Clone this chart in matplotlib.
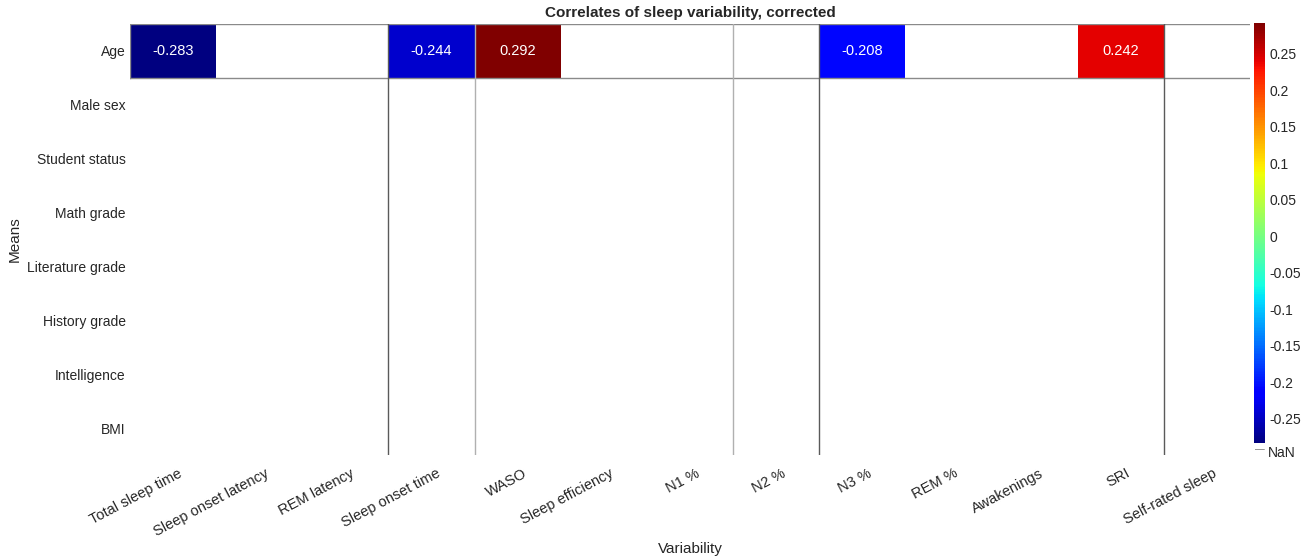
import numpy as np
import matplotlib
matplotlib.use("Agg")
import matplotlib.pyplot as plt
from matplotlib.transforms import ScaledTranslation

plt.rcParams["font.family"] = ["Liberation Sans", "DejaVu Sans"]

columns = ["Total sleep time", "Sleep onset latency", "REM latency", "Sleep onset time",
           "WASO", "Sleep efficiency", "N1 %", "N2 %", "N3 %", "REM %",
           "Awakenings", "SRI", "Self-rated sleep"]
rows = ["Age", "Male sex", "Student status", "Math grade", "Literature grade",
        "History grade", "Intelligence", "BMI"]

# only significant correlations survive correction (Age row)
age_values = [-0.283, np.nan, np.nan, -0.244, 0.292, np.nan, np.nan, np.nan,
              -0.208, np.nan, np.nan, 0.242, np.nan]

# grid-line artefacts in the exported figure: column edges and their shade
vline_cols = [3, 4, 7, 8, 12]
vline_colors = ["#5a5a5a", "#b0b0b0", "#b0b0b0", "#5a5a5a", "#5a5a5a"]

data = np.full((len(rows), len(columns)), np.nan)
data[0, :] = age_values

vmin, vmax = np.nanmin(data), np.nanmax(data)

fig = plt.figure(figsize=(13.11, 5.59), dpi=100)
ax = fig.add_axes([130 / 1311, 1 - 455 / 559, 1120 / 1311, 431 / 559])

cmap = plt.get_cmap("jet").copy()
cmap.set_bad("white")
mesh = ax.pcolormesh(np.ma.masked_invalid(data), cmap=cmap, vmin=vmin, vmax=vmax)
ax.set_xlim(0, len(columns))
ax.set_ylim(len(rows), 0)

for i in range(len(rows)):
    for j in range(len(columns)):
        v = data[i, j]
        if not np.isnan(v):
            ax.text(j + 0.5, i + 0.5, f"{v:.3f}", ha="center", va="center",
                    color="white", fontsize=10.5)

# edge lines
ax.plot([0, len(columns)], [0, 0], color="#8a8a8a", lw=1)
ax.plot([0, len(columns)], [1, 1], color="#8a8a8a", lw=1)
ax.plot([0, 0], [0, 1], color="#8a8a8a", lw=1)
for c, col in zip(vline_cols, vline_colors):
    ax.plot([c, c], [0, len(rows)], color=col, lw=1)

for s in ax.spines.values():
    s.set_visible(False)

ax.set_xticks(np.arange(len(columns)) + 0.5)
ax.set_yticks(np.arange(len(rows)) + 0.5)
ax.set_yticklabels(rows, fontsize=10, color="#262626")
ax.set_xticklabels(columns, fontsize=10.5, color="#262626", rotation=28,
                   ha="right", va="top", rotation_mode="anchor")
ax.tick_params(length=0)
ax.tick_params(axis="y", pad=3)
ax.tick_params(axis="x", pad=8)
shift = ScaledTranslation(5 / 100, 0, fig.dpi_scale_trans)
for lab in ax.get_xticklabels():
    lab.set_transform(lab.get_transform() + shift)

ax.set_title("Correlates of sleep variability, corrected", fontsize=11,
             fontweight="bold", color="#262626", pad=5)
ax.set_xlabel("Variability", fontsize=11, color="#262626", va="center")
ax.xaxis.set_label_coords(0.5, -0.217)
ax.set_ylabel("Means", fontsize=11, color="#262626")
ax.yaxis.set_label_coords(-108 / 1120, 0.5)

# colorbar
cax = fig.add_axes([1254 / 1311, 1 - 443 / 559, 11 / 1311, 420 / 559])
cb = fig.colorbar(mesh, cax=cax)
cb.set_ticks(np.round(np.arange(-0.25, 0.26, 0.05), 2))
cb.set_ticklabels(["-0.25", "-0.2", "-0.15", "-0.1", "-0.05", "0", "0.05", "0.1",
                   "0.15", "0.2", "0.25"])
cb.ax.tick_params(labelsize=10, colors="#262626", length=0, pad=3)
cb.outline.set_visible(False)
fig.text(1255 / 1311, 1 - 449 / 559, "\u2014", fontsize=7, color="#777777",
         ha="left", va="center")
fig.text(1268 / 1311, 1 - 453 / 559, "NaN", fontsize=10, color="#262626",
         ha="left", va="center")

fig.savefig("out.png", dpi=100)
